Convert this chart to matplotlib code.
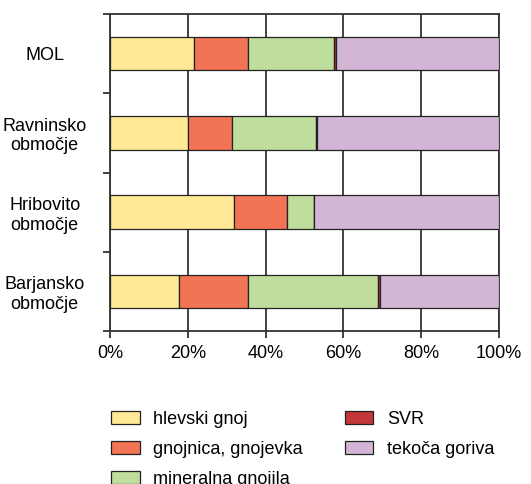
import numpy as np
import matplotlib.pyplot as plt
from matplotlib.ticker import FixedLocator, PercentFormatter

plt.rcParams['font.family'] = ['Liberation Sans', 'DejaVu Sans']

# podatki (deleži v %)
regije = ['MOL', 'Ravninsko\nobmočje', 'Hribovito\nobmočje', 'Barjansko\nobmočje']
viri = ['hlevski gnoj', 'gnojnica, gnojevka', 'mineralna gnojila', 'SVR', 'tekoča goriva']
hlevski_gnoj = [21.7, 20.0, 32.0, 17.7]
gnojnica = [13.9, 11.3, 13.5, 17.9]
mineralna = [22.0, 21.6, 6.9, 33.4]
svr = [0.6, 0.4, 0.1, 0.5]
tekoca_goriva = [41.8, 46.7, 47.5, 30.5]
barve = ['#FFE996', '#F37455', '#BFDD9C', '#C5363A', '#D3B5D6']

serije = [hlevski_gnoj, gnojnica, mineralna, svr, tekoca_goriva]

fig = plt.figure(figsize=(5.31, 4.84), dpi=100)
ax = fig.add_axes([110/531, 1 - 331/484, 389/531, 317/484])

y = np.arange(len(regije))
levo = np.zeros(len(regije))
for vals, ime, c in zip(serije, viri, barve):
    vals = np.array(vals)
    ax.barh(y, vals, left=levo, height=0.42, color=c, edgecolor='#222222',
            linewidth=0.9, label=ime, zorder=3)
    levo += vals

ax.set_xlim(0, 100)
ax.set_ylim(len(regije) - 0.5, -0.5)
ax.set_xticks(np.arange(0, 101, 20))
ax.xaxis.set_major_formatter(PercentFormatter(decimals=0))
ax.xaxis.grid(True, color='#333333', linewidth=1.3, zorder=0)
ax.set_axisbelow(True)

ax.set_yticks(y)
ax.set_yticklabels(regije, multialignment='center', horizontalalignment='center')
ax.yaxis.set_minor_locator(FixedLocator(np.arange(-0.5, len(regije), 1)))
ax.tick_params(axis='y', which='major', length=0, pad=47, labelsize=13)
ax.tick_params(axis='y', which='minor', length=5, width=1.3, color='#333333')
ax.tick_params(axis='x', length=5, width=1.3, color='#333333', labelsize=13, pad=5)
for s in ax.spines.values():
    s.set_color('#333333')
    s.set_linewidth(1.3)

fig.legend(loc='upper left', bbox_to_anchor=(111/531, 1 - 411/484), ncol=2,
           frameon=False, fontsize=13, handlelength=1.6, handleheight=0.75,
           handletextpad=0.75, columnspacing=2.3, labelspacing=0.72,
           borderpad=0, borderaxespad=0)

fig.savefig('out.png', dpi=100)
